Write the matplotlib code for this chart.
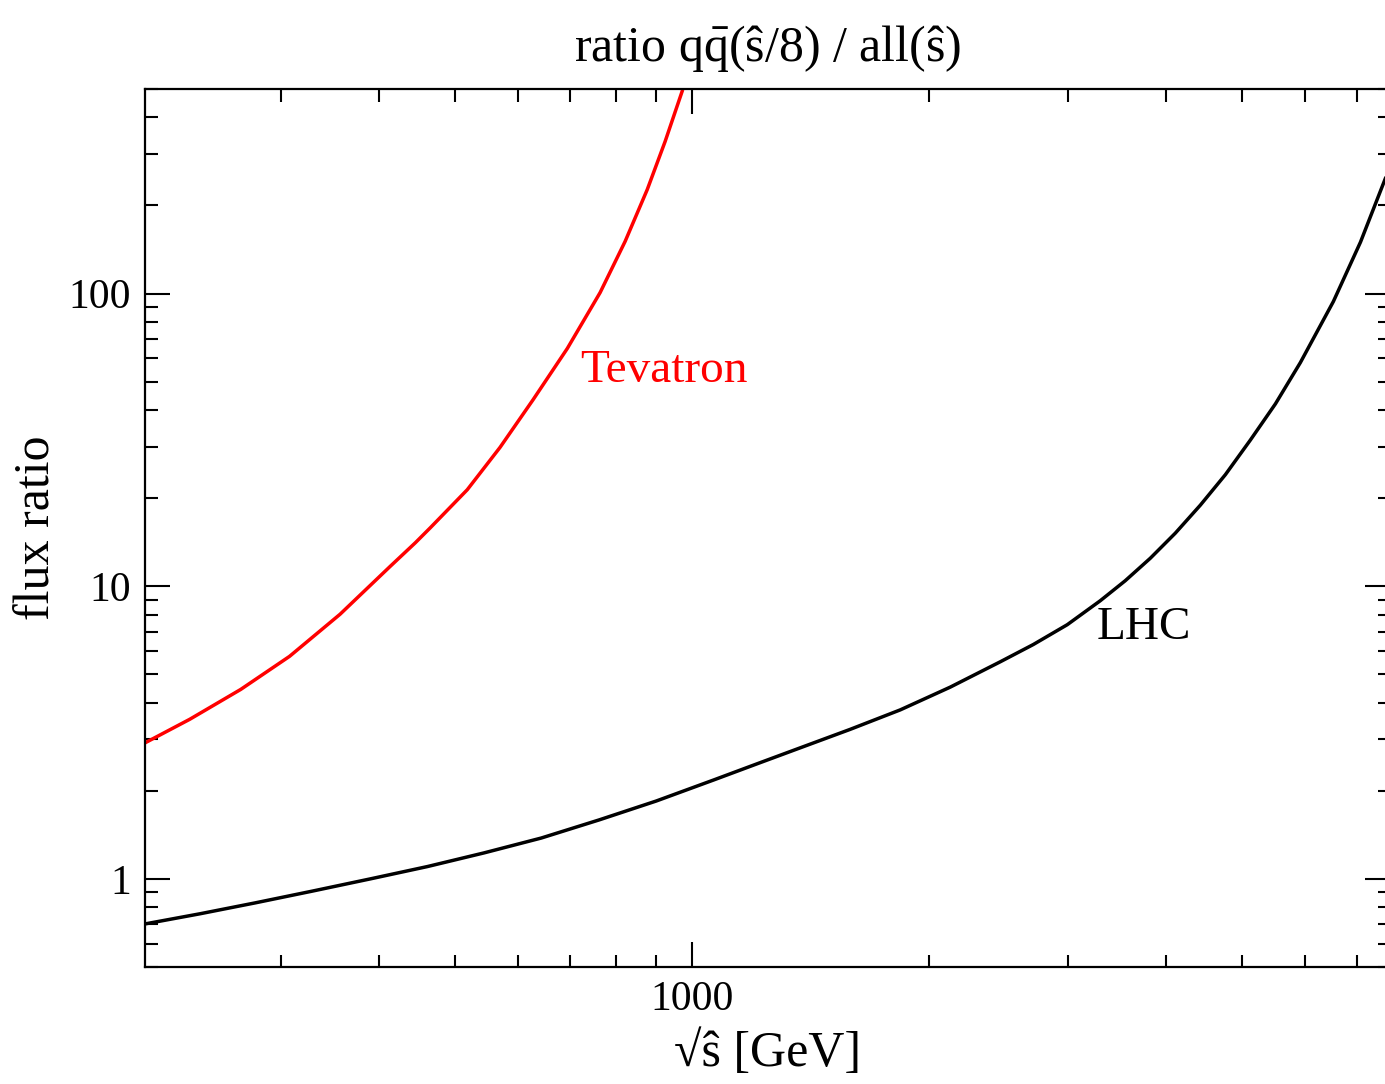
import matplotlib
matplotlib.use("Agg")
import matplotlib.pyplot as plt
from matplotlib.ticker import LogLocator, NullFormatter, FixedLocator, FixedFormatter

# values (sqrt(s_hat) in GeV, flux ratio)
tev_x = [202, 230, 267, 308, 357, 413, 445, 465, 518, 570, 628, 694, 764, 822, 877, 924, 971]
tev_y = [2.92, 3.51, 4.44, 5.76, 8.02, 11.66, 14.08, 15.85, 21.37, 29.8, 43.4, 64.9, 100.8, 150.8, 226.8, 331, 490.5]

lhc_x = [202, 237, 278.5, 329, 390, 461, 544, 643, 762, 900, 1066, 1209, 1372, 1588, 1838, 2127,
         2463, 2712, 2996, 3299, 3549, 3819, 4109, 4421, 4757, 5117, 5507, 5924, 6524, 7063, 7596]
lhc_y = [0.702, 0.760, 0.828, 0.908, 1.0, 1.102, 1.227, 1.379, 1.591, 1.845, 2.18, 2.473, 2.805, 3.244, 3.78, 4.52,
         5.52, 6.32, 7.39, 8.92, 10.44, 12.46, 15.18, 18.92, 24.05, 31.56, 41.98, 58.1, 93.9, 149.9, 247.3]

plt.rcParams['font.family'] = ['Liberation Serif', 'DejaVu Serif']
plt.rcParams['mathtext.fontset'] = 'custom'
plt.rcParams['mathtext.rm'] = 'Liberation Serif'
plt.rcParams['mathtext.it'] = 'Liberation Serif:italic'

fig = plt.figure(figsize=(13.85, 10.84), dpi=100)
ax = fig.add_axes([145 / 1385, 117 / 1084, 1245 / 1385, 878 / 1084])

ax.plot(tev_x, tev_y, color='red', lw=2.5, solid_joinstyle='round')
ax.plot(lhc_x, lhc_y, color='black', lw=2.5, solid_joinstyle='round')

ax.set_xscale('log')
ax.set_yscale('log')
ax.set_xlim(201.8, 7700)
ax.set_ylim(0.5, 500)

ax.xaxis.set_major_locator(FixedLocator([1000]))
ax.xaxis.set_major_formatter(FixedFormatter(['1000']))
ax.xaxis.set_minor_locator(LogLocator(base=10, subs=range(2, 10)))
ax.xaxis.set_minor_formatter(NullFormatter())
ax.yaxis.set_major_locator(FixedLocator([1, 10, 100]))
ax.yaxis.set_major_formatter(FixedFormatter(['1', '10', '100']))
ax.yaxis.set_minor_locator(LogLocator(base=10, subs=range(2, 10)))
ax.yaxis.set_minor_formatter(NullFormatter())

ax.tick_params(which='both', direction='in', top=True, right=True, width=1.5, labelsize=30)
ax.tick_params(which='major', length=18, pad=10)
ax.tick_params(which='minor', length=9)
for s in ax.spines.values():
    s.set_linewidth(1.6)

ax.set_title(r'ratio $\mathrm{q\bar{q}}$(ŝ/8) / all(ŝ)', fontsize=36, pad=20)
ax.set_xlabel('√ŝ [GeV]', fontsize=36, labelpad=8)
ax.set_ylabel('flux ratio', fontsize=36, labelpad=6)

ax.text(720, 54.5, 'Tevatron', color='red', fontsize=34, va='center', ha='left')
ax.text(3268, 7.2, 'LHC', color='black', fontsize=34, va='center', ha='left')

fig.savefig('out.png', dpi=100)
